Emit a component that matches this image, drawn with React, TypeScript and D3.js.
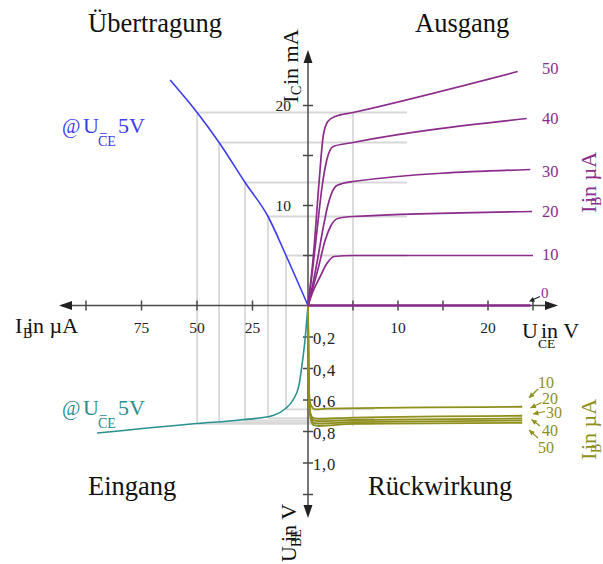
import React from "react";
import * as d3 from "d3";

// ---------- data ----------
// Output characteristics: [U_CE in V, I_C in mA] per I_B
const out0: [number, number][] = [[0, 0], [24.7, 0]];
const out10: [number, number][] = [[0, 0], [0.55, 1.4], [1.3, 2.8], [2.1, 4.2], [2.9, 4.9], [5, 5.0], [25, 5.0]];
const out20: [number, number][] = [[0, 0], [0.55, 1.8], [1.1, 3.6], [1.9, 6.5], [2.5, 7.9], [3.3, 8.7], [5, 8.9], [24.9, 9.4]];
const out30: [number, number][] = [[0, 0], [0.55, 2.2], [1.1, 4.8], [1.67, 7.7], [2.2, 10], [3.2, 12], [5, 12.4], [24.7, 13.6]];
const out40: [number, number][] = [[0, 0], [0.5, 3.5], [1.0, 7.5], [1.55, 11.8], [2.1, 14.6], [2.8, 15.9], [5, 16.3], [24.3, 18.7]];
const out50: [number, number][] = [[0, 0], [0.6, 5], [1.2, 12], [1.7, 17], [2.2, 18.4], [3, 18.9], [5, 19.3], [23.3, 23.4]];
const outputSeries = [out0, out10, out20, out30, out40, out50];
const outputLabels = ["0", "10", "20", "30", "40", "50"];

// Feedback characteristics: [U_CE in V, U_BE in V] per I_B
const fb10: [number, number][] = [[0, 0], [0.05, 0.35], [0.12, 0.55], [0.3, 0.63], [0.8, 0.66], [2, 0.655], [23.8, 0.643]];
const fb20: [number, number][] = [[0, 0], [0.05, 0.38], [0.12, 0.58], [0.3, 0.69], [0.6, 0.715], [1.2, 0.72], [5, 0.712], [23.8, 0.70]];
const fb30: [number, number][] = [[0, 0], [0.05, 0.39], [0.12, 0.59], [0.3, 0.70], [0.6, 0.73], [1.2, 0.735], [5, 0.727], [23.8, 0.717]];
const fb40: [number, number][] = [[0, 0], [0.05, 0.4], [0.12, 0.6], [0.3, 0.71], [0.6, 0.745], [1.2, 0.75], [5, 0.74], [23.8, 0.73]];
const fb50: [number, number][] = [[0, 0], [0.05, 0.41], [0.12, 0.61], [0.3, 0.72], [0.6, 0.76], [1.2, 0.765], [5, 0.752], [23.8, 0.745]];
const feedbackSeries = [fb10, fb20, fb30, fb40, fb50];
const feedbackLabels = ["10", "20", "30", "40", "50"];

// Transfer characteristic: [I_B in µA, I_C in mA]
const transfer: [number, number][] = [[0, 0], [9.9, 5.0], [18, 8.9], [28.35, 12.3], [40.05, 16.3], [49.95, 19.3], [62.1, 22.55]];
// Input characteristic: [I_B in µA, U_BE in V]
const input: [number, number][] = [[0, 0], [1.35, 0.219], [2.7, 0.378], [4.05, 0.505], [6.75, 0.6], [10.35, 0.657], [15.75, 0.698], [30.6, 0.727], [50, 0.749], [95, 0.81]];

// Operating-point grid
const gridIB = [49.95, 40.05, 28.35, 18, 9.9];
const gridIC = [19.3, 16.3, 12.3, 8.9, 5.0];
const gridUBE = [0.752, 0.742, 0.73, 0.715, 0.66];
const gridUCE = 5;
const gridRightUCE = 11;
const gridLowRightUCE = 7.4;

// Ticks
const uceTicks = [5, 10, 15, 20, 25];
const uceLabels = [10, 20];
const ibTicks = [25, 50, 75, 100];
const ibLabels = [25, 50, 75];
const icTicks = [5, 10, 15, 20];
const icLabels = [10, 20];
const ubeTicks = [0.2, 0.4, 0.6, 0.8, 1.0, 1.2];
const ubeLabels = [0.2, 0.4, 0.6, 0.8, 1.0];

// ---------- styles ----------
const FONT = "'Liberation Serif', 'Times New Roman', serif";
const PURPLE = "#8b2b8b";
const BLUE = "#3c3cf2";
const TEAL = "#2a8f8f";
const OLIVE = "#8f8f1c";
const AXIS = "#4a4a4a";
const GRID = "#d8d8d8";

export default function App() {
  const xR = d3.scaleLinear().domain([0, 25]).range([308, 533]);
  const xL = d3.scaleLinear().domain([0, 100]).range([308, 86]);
  const yU = d3.scaleLinear().domain([0, 20]).range([305.5, 105.5]);
  const yD = d3.scaleLinear().domain([0, 1]).range([305.5, 463]);

  const outLine = d3.line<[number, number]>().x((d) => xR(d[0])).y((d) => yU(d[1])).curve(d3.curveMonotoneX);
  const fbLine = d3.line<[number, number]>().x((d) => xR(d[0])).y((d) => yD(d[1])).curve(d3.curveMonotoneX);
  const trLine = d3.line<[number, number]>().x((d) => xL(d[0])).y((d) => yU(d[1])).curve(d3.curveMonotoneX);
  const inLine = d3.line<[number, number]>().x((d) => xL(d[0])).y((d) => yD(d[1])).curve(d3.curveMonotoneX);

  const ox = xR(0);
  const oy = yU(0);
  const fmt = (v: number) => v.toFixed(1).replace(".", ",");

  const outLabelY = [293, 254, 211, 171, 118, 68];
  const fbLabelPos: [number, number][] = [[538, 382], [542, 398], [546, 412], [542, 430], [538, 447]];
  const fbArrows: [number, number, number, number][] = [
    [538, 389, 529, 398],
    [541.5, 402.5, 530.5, 408],
    [545, 411.5, 533, 414],
    [540, 426, 531.5, 419.5],
    [538, 438, 529, 430],
  ];

  const arrowHead = (x1: number, y1: number, x2: number, y2: number, size: number) => {
    const a = Math.atan2(y2 - y1, x2 - x1);
    const p1 = [x2 - size * Math.cos(a - 0.45), y2 - size * Math.sin(a - 0.45)];
    const p2 = [x2 - size * Math.cos(a + 0.45), y2 - size * Math.sin(a + 0.45)];
    return `M${x2},${y2}L${p1[0]},${p1[1]}L${p2[0]},${p2[1]}Z`;
  };

  const condLabel = (y: number, color: string) => (
    <text y={y} fontSize={22} fill={color}>
      <tspan x={62} fontSize={20}>@</tspan>
      <tspan x={83}>U</tspan>
      <tspan x={98} dy={13} fontSize={14}>CE</tspan>
      <tspan x={99} dy={-6} fontSize={15}>=</tspan>
      <tspan x={118} dy={-7}>5V</tspan>
    </text>
  );

  const ibRot = (tx: number, ty: number, color: string) => (
    <text transform={`translate(${tx},${ty}) rotate(-90)`} fontSize={22} fill={color}>
      <tspan x={0} y={0}>I</tspan>
      <tspan x={7} y={5} fontSize={14}>B</tspan>
      <tspan x={10} y={0}>in µA</tspan>
    </text>
  );

  return (
    <svg width={603} height={564} style={{ position: "absolute", left: 0, top: 0, background: "#fff" }} fontFamily={FONT}>
      {/* grid */}
      <g stroke={GRID} strokeWidth={1.8} fill="none">
        {gridIB.map((ib, i) => (
          <g key={i}>
            <line x1={xL(ib)} x2={xR(gridRightUCE)} y1={yU(gridIC[i])} y2={yU(gridIC[i])} />
            <line x1={xL(ib)} x2={xL(ib)} y1={yU(gridIC[i])} y2={yD(gridUBE[i])} />
            <line x1={xL(ib)} x2={xR(gridLowRightUCE)} y1={yD(gridUBE[i])} y2={yD(gridUBE[i])} />
          </g>
        ))}
        <line x1={xR(gridUCE)} x2={xR(gridUCE)} y1={yU(gridIC[0])} y2={yD(0.765)} />
      </g>

      {/* axes */}
      <g stroke={AXIS} strokeWidth={1.5}>
        <line x1={62} x2={552} y1={oy} y2={oy} />
        <line x1={ox} x2={ox} y1={55} y2={512} />
        {uceTicks.map((t) => (
          <line key={"uce" + t} x1={xR(t)} x2={xR(t)} y1={oy - 5} y2={oy + 5} />
        ))}
        {ibTicks.map((t) => (
          <line key={"ib" + t} x1={xL(t)} x2={xL(t)} y1={oy - 5} y2={oy + 5} />
        ))}
        {icTicks.map((t) => (
          <line key={"ic" + t} x1={ox - 5} x2={ox + 5} y1={yU(t)} y2={yU(t)} />
        ))}
        {ubeTicks.map((t) => (
          <line key={"ube" + t} x1={ox - 5} x2={ox + 5} y1={yD(t)} y2={yD(t)} />
        ))}
      </g>
      <g fill="#222">
        <path d={`M558,${oy}L545,${oy - 4.5}L545,${oy + 4.5}Z`} />
        <path d={`M59,${oy}L72,${oy - 4.5}L72,${oy + 4.5}Z`} />
        <path d={`M${ox},50L${ox - 4.5},63L${ox + 4.5},63Z`} />
        <path d={`M${ox},518L${ox - 4.5},505L${ox + 4.5},505Z`} />
      </g>

      {/* tick labels */}
      <g fontSize={15.5} fill="#222">
        {uceLabels.map((t) => (
          <text key={"l" + t} x={xR(t)} y={333} textAnchor="middle">{t}</text>
        ))}
        {ibLabels.map((t) => (
          <text key={"l" + t} x={xL(t)} y={333} textAnchor="middle">{t}</text>
        ))}
        {icLabels.map((t) => (
          <text key={"l" + t} x={291} y={yU(t) + 5} textAnchor="end">{t}</text>
        ))}
        {ubeLabels.map((t) => (
          <text key={"l" + t} x={313} y={yD(t) + 7} textAnchor="start" fontSize={16.5} letterSpacing={0.8}>{fmt(t)}</text>
        ))}
      </g>

      {/* curves */}
      <g fill="none">
        <path d={inLine(input) || ""} stroke={TEAL} strokeWidth={1.6} />
        <path d={trLine(transfer) || ""} stroke={BLUE} strokeWidth={1.6} />
        {feedbackSeries.map((s, i) => (
          <path key={"fb" + i} d={fbLine(s) || ""} stroke={OLIVE} strokeWidth={1.8} />
        ))}
        {outputSeries.map((s, i) => (
          <path key={"out" + i} d={outLine(s) || ""} stroke={PURPLE} strokeWidth={i === 0 ? 2.4 : 1.7} />
        ))}
      </g>

      {/* output curve labels */}
      <g fontSize={16.5} fill={PURPLE}>
        {outputLabels.map((l, i) =>
          i === 0 ? (
            <text key={l} x={541} y={outLabelY[i] + 5} fontSize={15}>{l}</text>
          ) : (
            <text key={l} x={542} y={outLabelY[i] + 6}>{l}</text>
          )
        )}
      </g>
      <line x1={540} y1={296.5} x2={531} y2={300.5} stroke="#222" strokeWidth={1.1} />
      <path d={arrowHead(540, 296.5, 529, 301.5, 6)} fill="#222" />

      {/* feedback curve labels */}
      <g fontSize={16} fill={OLIVE}>
        {feedbackLabels.map((l, i) => (
          <text key={l} x={fbLabelPos[i][0]} y={fbLabelPos[i][1] + 6}>{l}</text>
        ))}
      </g>
      <g stroke={OLIVE} strokeWidth={1.2} fill={OLIVE}>
        {fbArrows.map((a, i) => (
          <g key={i}>
            <line x1={a[0]} y1={a[1]} x2={a[2]} y2={a[3]} />
            <path d={arrowHead(a[0], a[1], a[2], a[3], 6)} stroke="none" />
          </g>
        ))}
      </g>

      {/* quadrant titles */}
      <g fontSize={26.5} fill="#111">
        <text x={88} y={32}>Übertragung</text>
        <text x={415} y={32}>Ausgang</text>
        <text x={88} y={495}>Eingang</text>
        <text x={368} y={495}>Rückwirkung</text>
      </g>

      {/* condition labels */}
      {condLabel(133, BLUE)}
      {condLabel(415, TEAL)}

      {/* axis titles */}
      <g fill="#111" fontSize={22}>
        <text y={333}>
          <tspan x={15}>I</tspan>
          <tspan x={23} dy={5} fontSize={14}>B</tspan>
          <tspan x={27} dy={-5}>in µA</tspan>
        </text>
        <text y={338}>
          <tspan x={522}>U</tspan>
          <tspan x={538} dy={10} fontSize={13.5}>CE</tspan>
          <tspan x={541} dy={-10}>in V</tspan>
        </text>
        <text transform="translate(298,103) rotate(-90)">
          <tspan x={0} y={0}>I</tspan>
          <tspan x={8} y={3} fontSize={14}>C</tspan>
          <tspan x={18} y={0}>in mA</tspan>
        </text>
        <text transform="translate(296,562) rotate(-90)">
          <tspan x={0} y={0}>U</tspan>
          <tspan x={15} y={5} fontSize={14}>BE</tspan>
          <tspan x={20} y={0}>in V</tspan>
        </text>
      </g>
      {ibRot(596, 213, PURPLE)}
      {ibRot(596, 460, OLIVE)}
    </svg>
  );
}
